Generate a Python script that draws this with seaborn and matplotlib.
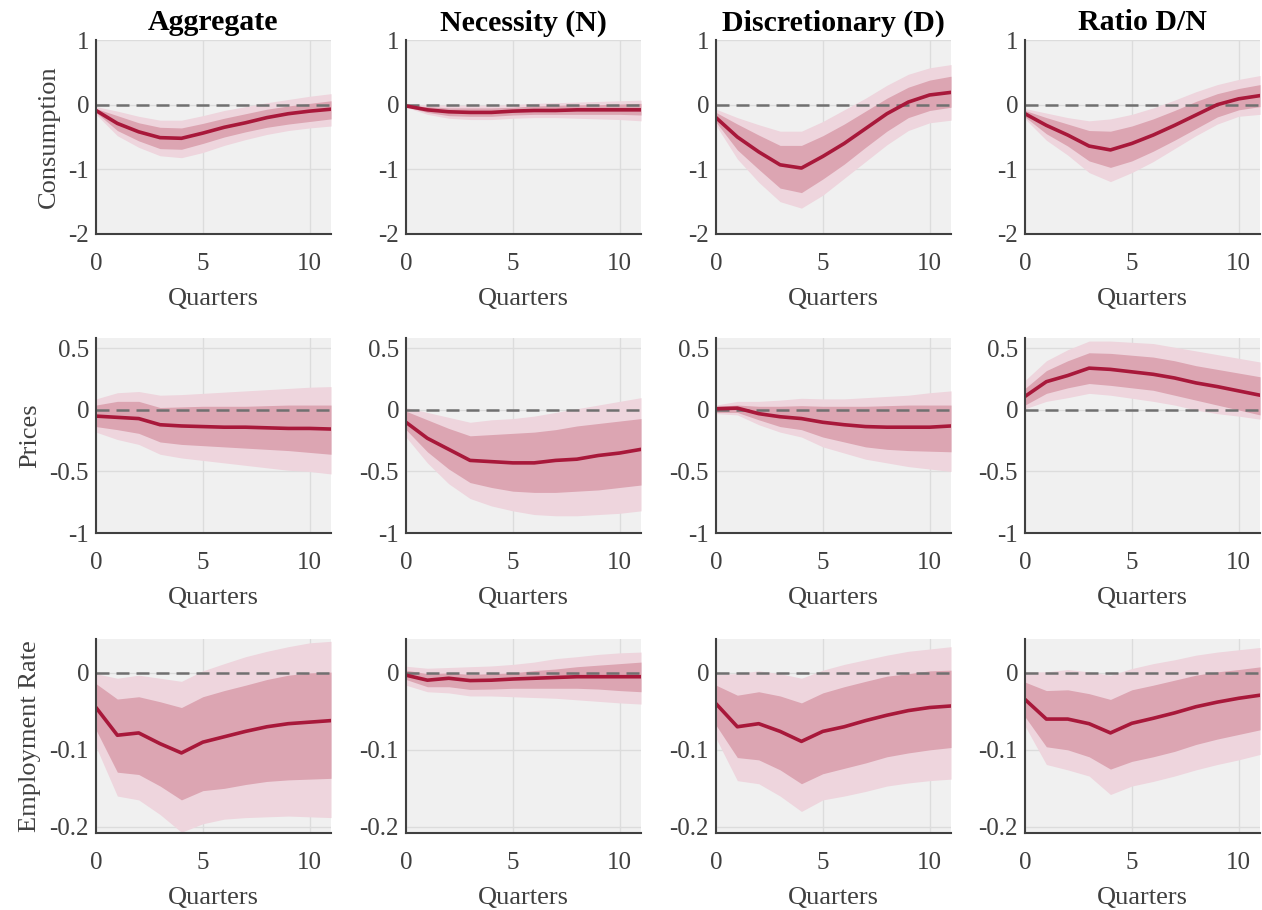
import matplotlib
matplotlib.use("Agg")
import matplotlib.pyplot as plt
import numpy as np
import pandas as pd
import seaborn as sns

# Horizon (quarters after the shock)
quarters = list(range(12))
column_titles = ["Aggregate", "Necessity (N)", "Discretionary (D)", "Ratio D/N"]
row_labels = ["Consumption", "Prices", "Employment Rate"]

# ---------------- Consumption responses ----------------
cons_agg_med = [-0.09, -0.29, -0.42, -0.51, -0.52, -0.44, -0.35, -0.28, -0.20, -0.14, -0.10, -0.07]
cons_agg_hi68 = [-0.06, -0.17, -0.28, -0.35, -0.36, -0.29, -0.21, -0.14, -0.07, -0.02, 0.02, 0.06]
cons_agg_lo68 = [-0.12, -0.40, -0.56, -0.68, -0.69, -0.60, -0.50, -0.42, -0.35, -0.30, -0.26, -0.22]
cons_agg_hi90 = [-0.03, -0.10, -0.18, -0.24, -0.24, -0.17, -0.09, -0.03, 0.03, 0.08, 0.13, 0.17]
cons_agg_lo90 = [-0.15, -0.48, -0.66, -0.79, -0.82, -0.74, -0.63, -0.54, -0.46, -0.40, -0.36, -0.33]

cons_nec_med = [-0.02, -0.08, -0.11, -0.12, -0.12, -0.10, -0.09, -0.09, -0.08, -0.08, -0.08, -0.08]
cons_nec_hi68 = [-0.01, -0.03, -0.05, -0.05, -0.05, -0.04, -0.02, -0.01, 0.00, 0.00, 0.01, 0.02]
cons_nec_lo68 = [-0.03, -0.12, -0.17, -0.18, -0.18, -0.16, -0.15, -0.15, -0.15, -0.15, -0.15, -0.16]
cons_nec_hi90 = [0.00, 0.00, -0.01, -0.01, -0.01, 0.00, 0.02, 0.03, 0.04, 0.05, 0.06, 0.07]
cons_nec_lo90 = [-0.04, -0.15, -0.21, -0.23, -0.23, -0.21, -0.20, -0.20, -0.21, -0.22, -0.23, -0.25]

cons_dis_med = [-0.20, -0.50, -0.73, -0.93, -0.98, -0.80, -0.60, -0.37, -0.14, 0.04, 0.15, 0.19]
cons_dis_hi68 = [-0.12, -0.30, -0.47, -0.63, -0.63, -0.48, -0.30, -0.10, 0.10, 0.27, 0.38, 0.44]
cons_dis_lo68 = [-0.27, -0.70, -1.00, -1.29, -1.36, -1.15, -0.92, -0.66, -0.41, -0.20, -0.09, -0.04]
cons_dis_hi90 = [-0.07, -0.20, -0.31, -0.41, -0.41, -0.26, -0.08, 0.10, 0.30, 0.47, 0.57, 0.62]
cons_dis_lo90 = [-0.32, -0.84, -1.20, -1.50, -1.60, -1.40, -1.14, -0.88, -0.62, -0.40, -0.28, -0.24]

cons_rat_med = [-0.14, -0.32, -0.47, -0.64, -0.70, -0.60, -0.47, -0.32, -0.16, 0.00, 0.09, 0.14]
cons_rat_hi68 = [-0.09, -0.20, -0.30, -0.40, -0.41, -0.33, -0.22, -0.09, 0.05, 0.17, 0.25, 0.31]
cons_rat_lo68 = [-0.19, -0.45, -0.64, -0.87, -0.97, -0.87, -0.72, -0.55, -0.37, -0.19, -0.08, -0.03]
cons_rat_hi90 = [-0.06, -0.13, -0.20, -0.25, -0.22, -0.15, -0.05, 0.07, 0.20, 0.31, 0.39, 0.45]
cons_rat_lo90 = [-0.22, -0.55, -0.78, -1.05, -1.19, -1.05, -0.88, -0.68, -0.48, -0.30, -0.18, -0.15]

# ---------------- Price responses ----------------
pri_agg_med = [-0.05, -0.06, -0.07, -0.12, -0.13, -0.135, -0.14, -0.14, -0.145, -0.15, -0.15, -0.155]
pri_agg_hi68 = [0.04, 0.07, 0.07, 0.02, 0.025, 0.03, 0.03, 0.03, 0.035, 0.04, 0.04, 0.04]
pri_agg_lo68 = [-0.135, -0.16, -0.19, -0.26, -0.28, -0.29, -0.30, -0.31, -0.32, -0.33, -0.345, -0.36]
pri_agg_hi90 = [0.09, 0.14, 0.15, 0.12, 0.125, 0.135, 0.145, 0.155, 0.165, 0.175, 0.185, 0.19]
pri_agg_lo90 = [-0.18, -0.24, -0.28, -0.36, -0.39, -0.41, -0.43, -0.45, -0.47, -0.49, -0.50, -0.52]

pri_nec_med = [-0.10, -0.23, -0.32, -0.41, -0.42, -0.43, -0.43, -0.41, -0.40, -0.37, -0.35, -0.32]
pri_nec_hi68 = [-0.01, -0.08, -0.15, -0.21, -0.20, -0.19, -0.18, -0.16, -0.13, -0.11, -0.09, -0.07]
pri_nec_lo68 = [-0.16, -0.34, -0.48, -0.59, -0.63, -0.66, -0.67, -0.67, -0.66, -0.65, -0.63, -0.61]
pri_nec_hi90 = [0.02, -0.02, -0.06, -0.10, -0.08, -0.07, -0.05, -0.02, 0.01, 0.04, 0.07, 0.10]
pri_nec_lo90 = [-0.22, -0.43, -0.60, -0.72, -0.78, -0.82, -0.85, -0.86, -0.86, -0.85, -0.84, -0.82]

pri_dis_med = [0.01, 0.015, -0.03, -0.055, -0.07, -0.10, -0.12, -0.135, -0.14, -0.14, -0.14, -0.13]
pri_dis_hi68 = [0.03, 0.04, 0.03, 0.03, 0.035, 0.03, 0.03, 0.03, 0.035, 0.04, 0.04, 0.04]
pri_dis_lo68 = [-0.02, -0.02, -0.08, -0.135, -0.16, -0.22, -0.26, -0.30, -0.32, -0.33, -0.335, -0.34]
pri_dis_hi90 = [0.04, 0.07, 0.07, 0.08, 0.095, 0.09, 0.09, 0.10, 0.11, 0.12, 0.14, 0.155]
pri_dis_lo90 = [-0.03, -0.04, -0.12, -0.18, -0.22, -0.30, -0.35, -0.40, -0.43, -0.46, -0.48, -0.50]

pri_rat_med = [0.11, 0.23, 0.28, 0.34, 0.33, 0.31, 0.29, 0.26, 0.22, 0.19, 0.155, 0.12]
pri_rat_hi68 = [0.175, 0.32, 0.40, 0.465, 0.46, 0.445, 0.43, 0.40, 0.36, 0.33, 0.30, 0.27]
pri_rat_lo68 = [0.04, 0.135, 0.18, 0.215, 0.20, 0.18, 0.16, 0.12, 0.08, 0.04, 0.00, -0.04]
pri_rat_hi90 = [0.24, 0.40, 0.49, 0.56, 0.56, 0.55, 0.54, 0.51, 0.48, 0.45, 0.42, 0.39]
pri_rat_lo90 = [0.01, 0.07, 0.10, 0.135, 0.12, 0.095, 0.07, 0.04, 0.00, -0.03, -0.05, -0.075]

# ---------------- Employment rate responses ----------------
emp_agg_med = [-0.045, -0.081, -0.078, -0.092, -0.104, -0.090, -0.083, -0.076, -0.070, -0.066, -0.064, -0.062]
emp_agg_hi68 = [-0.014, -0.034, -0.031, -0.0375, -0.045, -0.031, -0.023, -0.016, -0.0086, -0.003, 0.000, 0.001]
emp_agg_lo68 = [-0.074, -0.129, -0.132, -0.147, -0.165, -0.153, -0.150, -0.145, -0.141, -0.139, -0.138, -0.137]
emp_agg_hi90 = [-0.001, -0.007, -0.003, -0.007, -0.011, 0.0026, 0.012, 0.021, 0.028, 0.034, 0.039, 0.041]
emp_agg_lo90 = [-0.096, -0.160, -0.165, -0.184, -0.207, -0.196, -0.190, -0.188, -0.187, -0.186, -0.187, -0.188]

emp_nec_med = [-0.003, -0.0095, -0.007, -0.010, -0.0095, -0.008, -0.007, -0.006, -0.005, -0.005, -0.005, -0.005]
emp_nec_hi68 = [0.0035, -0.001, 0.000, -0.002, -0.001, 0.000, 0.003, 0.005, 0.008, 0.010, 0.012, 0.014]
emp_nec_lo68 = [-0.0086, -0.018, -0.018, -0.0215, -0.021, -0.020, -0.020, -0.020, -0.020, -0.021, -0.023, -0.0245]
emp_nec_hi90 = [0.0086, 0.006, 0.007, 0.008, 0.009, 0.011, 0.014, 0.0185, 0.021, 0.024, 0.026, 0.027]
emp_nec_lo90 = [-0.016, -0.0245, -0.026, -0.030, -0.030, -0.031, -0.032, -0.033, -0.035, -0.037, -0.039, -0.0405]

emp_dis_med = [-0.040, -0.070, -0.066, -0.076, -0.089, -0.076, -0.070, -0.062, -0.055, -0.049, -0.045, -0.043]
emp_dis_hi68 = [-0.016, -0.029, -0.0245, -0.030, -0.039, -0.026, -0.018, -0.011, -0.0043, -0.001, 0.0026, 0.0035]
emp_dis_lo68 = [-0.068, -0.110, -0.113, -0.126, -0.144, -0.131, -0.124, -0.117, -0.109, -0.104, -0.100, -0.097]
emp_dis_hi90 = [-0.002, -0.001, 0.0026, -0.001, -0.007, 0.0035, 0.011, 0.017, 0.023, 0.028, 0.031, 0.034]
emp_dis_lo90 = [-0.085, -0.140, -0.144, -0.160, -0.180, -0.165, -0.160, -0.154, -0.147, -0.143, -0.140, -0.138]

emp_rat_med = [-0.0345, -0.060, -0.060, -0.066, -0.078, -0.0655, -0.059, -0.052, -0.044, -0.038, -0.033, -0.029]
emp_rat_hi68 = [-0.012, -0.023, -0.022, -0.027, -0.0345, -0.022, -0.016, -0.0095, -0.003, 0.0013, 0.0043, 0.0078]
emp_rat_lo68 = [-0.057, -0.096, -0.100, -0.109, -0.125, -0.115, -0.109, -0.102, -0.093, -0.086, -0.080, -0.074]
emp_rat_hi90 = [0.0013, 0.0013, 0.0043, 0.0013, -0.003, 0.0056, 0.012, 0.017, 0.023, 0.027, 0.030, 0.033]
emp_rat_lo90 = [-0.069, -0.119, -0.126, -0.134, -0.158, -0.147, -0.141, -0.134, -0.126, -0.119, -0.113, -0.106]

# Y-axis settings per row
row_ylims = [(-2.0, 1.0), (-1.0, 0.585), (-0.208, 0.044)]
row_yticks = [[-2, -1, 0, 1], [-1, -0.5, 0, 0.5], [-0.2, -0.1, 0]]
row_yticklabels = [["-2", "-1", "0", "1"], ["-1", "-0.5", "0", "0.5"], ["-0.2", "-0.1", "0"]]

panels = [
    [(cons_agg_med, cons_agg_lo68, cons_agg_hi68, cons_agg_lo90, cons_agg_hi90),
     (cons_nec_med, cons_nec_lo68, cons_nec_hi68, cons_nec_lo90, cons_nec_hi90),
     (cons_dis_med, cons_dis_lo68, cons_dis_hi68, cons_dis_lo90, cons_dis_hi90),
     (cons_rat_med, cons_rat_lo68, cons_rat_hi68, cons_rat_lo90, cons_rat_hi90)],
    [(pri_agg_med, pri_agg_lo68, pri_agg_hi68, pri_agg_lo90, pri_agg_hi90),
     (pri_nec_med, pri_nec_lo68, pri_nec_hi68, pri_nec_lo90, pri_nec_hi90),
     (pri_dis_med, pri_dis_lo68, pri_dis_hi68, pri_dis_lo90, pri_dis_hi90),
     (pri_rat_med, pri_rat_lo68, pri_rat_hi68, pri_rat_lo90, pri_rat_hi90)],
    [(emp_agg_med, emp_agg_lo68, emp_agg_hi68, emp_agg_lo90, emp_agg_hi90),
     (emp_nec_med, emp_nec_lo68, emp_nec_hi68, emp_nec_lo90, emp_nec_hi90),
     (emp_dis_med, emp_dis_lo68, emp_dis_hi68, emp_dis_lo90, emp_dis_hi90),
     (emp_rat_med, emp_rat_lo68, emp_rat_hi68, emp_rat_lo90, emp_rat_hi90)],
]

# Styling
LINE = "#A8183A"
BAND68 = "#DCA5B2"
BAND90 = "#EED5DD"
PANEL_BG = "#F0F0F0"
AXIS_GREY = "#404040"
GRID = "#DCDCDC"

sns.set_theme(style="whitegrid")
plt.rcParams["font.family"] = ["Liberation Serif", "DejaVu Serif"]
plt.rcParams["axes.unicode_minus"] = False

W, H = 1262, 910
fig = plt.figure(figsize=(W / 100, H / 100), dpi=100)

col_left_px = [96, 406, 716, 1025]
axes_w_px = 235
row_top_px = [40, 338, 639]
row_bot_px = [234, 533, 833]

for r in range(3):
    for c in range(4):
        med, lo68, hi68, lo90, hi90 = panels[r][c]
        left = col_left_px[c] / W
        bottom = 1 - row_bot_px[r] / H
        height = (row_bot_px[r] - row_top_px[r]) / H
        ax = fig.add_axes([left, bottom, axes_w_px / W, height])
        ax.set_facecolor(PANEL_BG)

        ax.fill_between(quarters, lo90, hi90, color=BAND90, lw=0, zorder=1)
        ax.fill_between(quarters, lo68, hi68, color=BAND68, lw=0, zorder=2)
        ax.axhline(0, color="#707070", lw=1.8, ls=(0, (5.2, 2.8)), zorder=3)
        df = pd.DataFrame({"quarter": quarters, "response": med})
        sns.lineplot(data=df, x="quarter", y="response", ax=ax, color=LINE,
                     lw=2.6, zorder=4)

        ax.set_xlim(0, 11)
        ax.set_ylim(*row_ylims[r])
        ax.set_xticks([0, 5, 10])
        ax.set_xticklabels(["0", "5", "10"])
        ax.set_yticks(row_yticks[r])
        ax.set_yticklabels(row_yticklabels[r])
        ax.grid(True, color=GRID, lw=1.0, zorder=0)
        ax.set_axisbelow(True)

        for side in ("top", "right"):
            ax.spines[side].set_visible(False)
        for side in ("left", "bottom"):
            ax.spines[side].set_visible(True)
            ax.spines[side].set_color(AXIS_GREY)
            ax.spines[side].set_linewidth(1.5)
            ax.spines[side].set_zorder(5)

        ax.tick_params(axis="both", direction="in", length=4, width=1.0,
                       colors=AXIS_GREY, labelsize=18, labelcolor=AXIS_GREY)
        ax.tick_params(axis="x", pad=14)
        ax.tick_params(axis="y", pad=5)

        ax.set_xlabel("Quarters", fontsize=19, color=AXIS_GREY, labelpad=9)
        if c == 0:
            ax.set_ylabel(row_labels[r], fontsize=19, color=AXIS_GREY, labelpad=6)
        else:
            ax.set_ylabel("")
        if r == 0:
            ax.set_title(column_titles[c], fontsize=21.5, fontweight="bold",
                         color="black", pad=7)

fig.savefig("out.png", dpi=100)
